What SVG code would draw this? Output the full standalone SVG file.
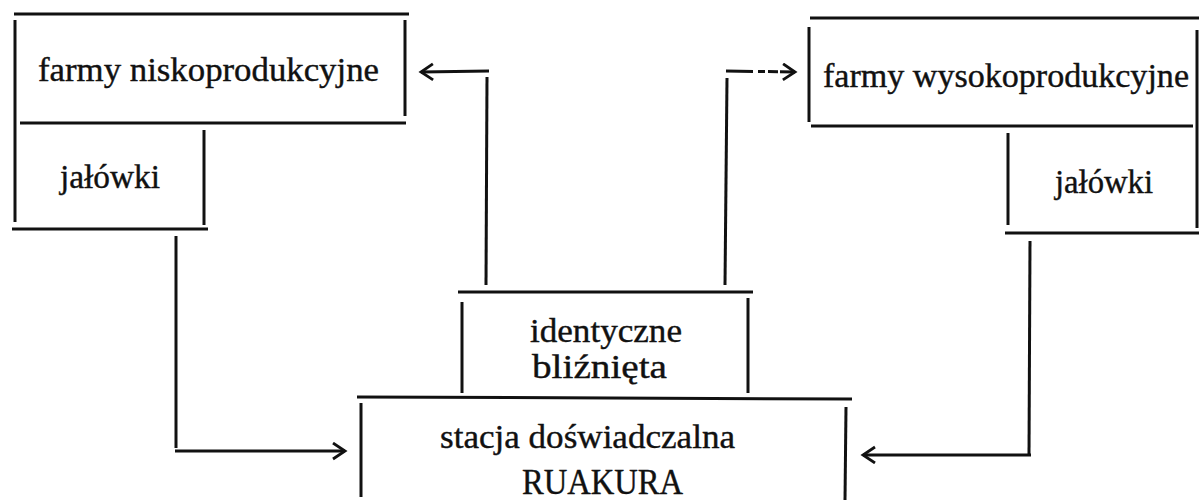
<svg xmlns="http://www.w3.org/2000/svg" width="1199" height="503" viewBox="0 0 1199 503">
<style>
.ln{stroke:#111;stroke-width:3;fill:none;stroke-linecap:butt}
.t{font-family:"Liberation Serif","DejaVu Serif",serif;font-size:34px;fill:#111;stroke:#111;stroke-width:0.4;text-anchor:middle}
.cap{font-size:35px}
</style>
<defs>
<marker id="arr" markerUnits="userSpaceOnUse" markerWidth="16" markerHeight="20" refX="13" refY="9" orient="auto" viewBox="0 0 16 20">
<path d="M1,1 L13,9 L1,17" fill="none" stroke="#111" stroke-width="2.8"/>
</marker>
</defs>
<rect width="1199" height="503" fill="#fff"/>
<g id="n1">
<line class="ln" x1="14" y1="14" x2="409" y2="14"/>
<line class="ln" x1="15" y1="20" x2="15" y2="123"/>
<line class="ln" x1="405" y1="20" x2="405" y2="116"/>
<line class="ln" x1="20" y1="123" x2="406" y2="123"/>
<text class="t" x="208.5" y="81" textLength="341" lengthAdjust="spacingAndGlyphs">farmy niskoprodukcyjne</text>
</g>
<g id="n2">
<line class="ln" x1="15" y1="123" x2="15" y2="222"/>
<line class="ln" x1="204" y1="130" x2="204" y2="225"/>
<line class="ln" x1="12" y1="229" x2="208" y2="229"/>
<text class="t" x="110" y="188" textLength="100" lengthAdjust="spacingAndGlyphs">jałówki</text>
</g>
<g id="n3">
<line class="ln" x1="810" y1="18" x2="1199" y2="18"/>
<line class="ln" x1="809" y1="27" x2="809" y2="122"/>
<line class="ln" x1="811" y1="126" x2="1193" y2="126"/>
<line class="ln" x1="1197" y1="30" x2="1197" y2="126"/>
<text class="t" x="1006" y="87" textLength="366" lengthAdjust="spacingAndGlyphs">farmy wysokoprodukcyjne</text>
</g>
<g id="n4">
<line class="ln" x1="1197" y1="126" x2="1197" y2="228"/>
<line class="ln" x1="1008" y1="133" x2="1008" y2="225"/>
<line class="ln" x1="1005" y1="233" x2="1199" y2="233"/>
<text class="t" x="1104" y="193" textLength="98" lengthAdjust="spacingAndGlyphs">jałówki</text>
</g>
<g id="n5">
<line class="ln" x1="458" y1="292" x2="753" y2="292"/>
<line class="ln" x1="462" y1="302" x2="462" y2="393"/>
<line class="ln" x1="748" y1="298" x2="748" y2="393"/>
<text class="t" x="606" y="342" textLength="152" lengthAdjust="spacingAndGlyphs">identyczne</text>
<text class="t" x="599.5" y="378" textLength="135" lengthAdjust="spacingAndGlyphs">bliźnięta</text>
</g>
<g id="n6">
<line class="ln" x1="357" y1="397" x2="852" y2="399"/>
<line class="ln" x1="361" y1="403" x2="361" y2="497"/>
<line class="ln" x1="846" y1="407" x2="845" y2="500"/>
<text class="t" x="587.5" y="448" textLength="295" lengthAdjust="spacingAndGlyphs">stacja doświadczalna</text>
<text class="t cap" x="602.5" y="494" textLength="161" lengthAdjust="spacingAndGlyphs">RUAKURA</text>
</g>
<g id="connectors">
<line class="ln" x1="486" y1="285" x2="487" y2="77"/>
<path class="ln" d="M489,71 L421,72" marker-end="url(#arr)"/>
<line class="ln" x1="725" y1="285" x2="727" y2="78"/>
<path class="ln" d="M726,71 L795,72" stroke-dasharray="27 5 7 3 10 2 15" marker-end="url(#arr)"/>
<line class="ln" x1="176" y1="236" x2="176" y2="448"/>
<path class="ln" d="M175,451 L345,451" marker-end="url(#arr)"/>
<line class="ln" x1="1030" y1="241" x2="1029" y2="454"/>
<path class="ln" d="M1031,455 L863,455" marker-end="url(#arr)"/>
</g>
</svg>
